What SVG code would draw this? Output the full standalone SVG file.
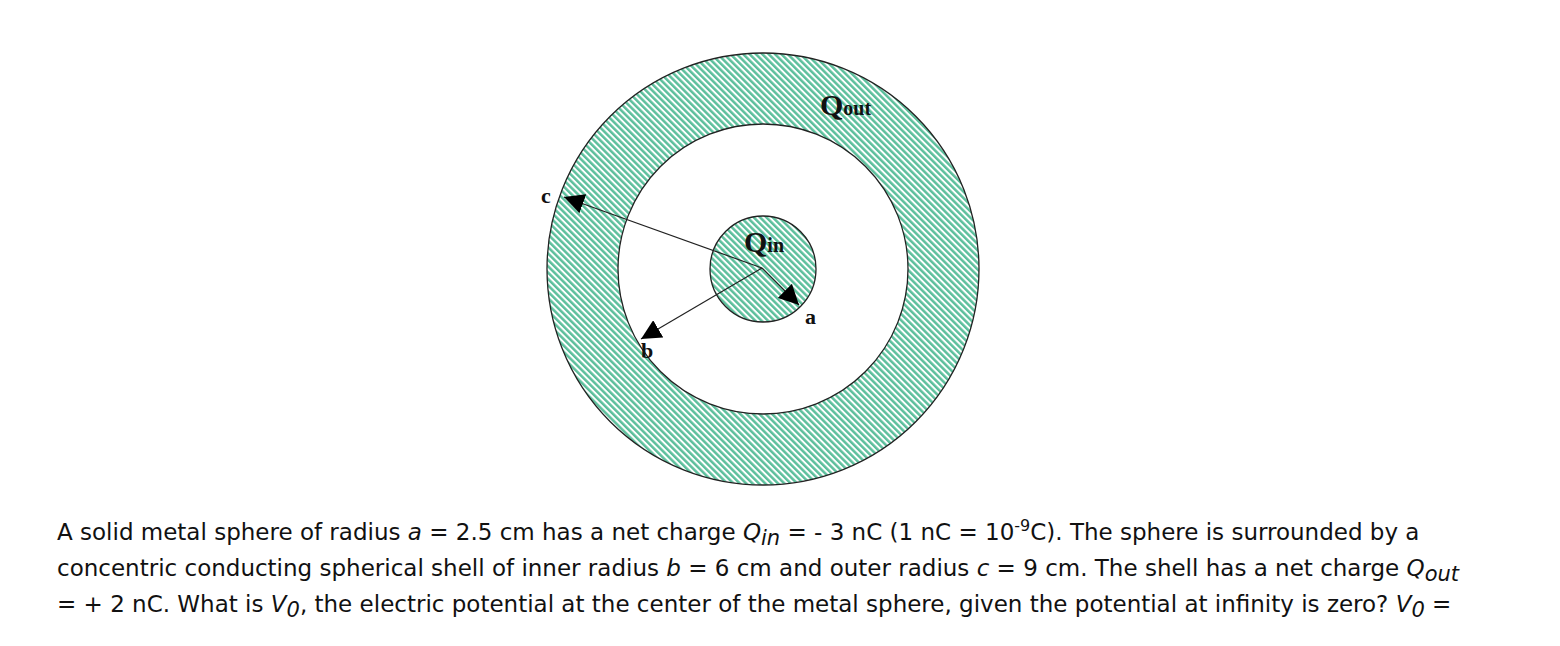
<svg xmlns="http://www.w3.org/2000/svg" width="1560" height="646" viewBox="0 0 1560 646">
<style>
.ring{stroke:#222;stroke-width:1.3}
.lbl{font-family:"Liberation Serif",serif;font-weight:bold;fill:#111}
.t{font-family:"DejaVu Sans",sans-serif;font-size:23px;fill:#111}
.ln{stroke:#222;stroke-width:1.2;fill:none}
</style>
<defs>
<pattern id="h" patternUnits="userSpaceOnUse" width="4.5" height="4.5" patternTransform="rotate(-45)">
<rect width="4.5" height="4.5" fill="#fff"/>
<rect width="2.5" height="4.5" fill="#5cbf9c"/>
</pattern>
<marker id="ar" viewBox="0 0 10 10" refX="10" refY="5" markerWidth="20" markerHeight="20" markerUnits="userSpaceOnUse" orient="auto">
<path d="M0,0 L10,5 L0,10 z" fill="#000"/>
</marker>
</defs>
<rect width="1560" height="646" fill="#fff"/>
<g id="shell">
<circle cx="763" cy="269" r="216" fill="url(#h)" class="ring"/>
<circle cx="763" cy="269" r="145" fill="#fff" class="ring"/>
</g>
<g id="sphere">
<circle cx="763" cy="269" r="53" fill="url(#h)" class="ring"/>
</g>
<g id="connectors">
<line class="ln" x1="762" y1="268" x2="564" y2="197" marker-end="url(#ar)"/>
<line class="ln" x1="762" y1="268" x2="799" y2="305" marker-end="url(#ar)"/>
<line class="ln" x1="762" y1="268" x2="641" y2="339" marker-end="url(#ar)"/>
</g>
<g id="labels">
<text class="lbl" x="541" y="203" font-size="22">c</text>
<text class="lbl" x="805" y="324" font-size="22">a</text>
<text class="lbl" x="641" y="358" font-size="22">b</text>
<text class="lbl" x="744" y="252" font-size="30">Q<tspan font-size="20">in</tspan></text>
<text class="lbl" x="820" y="115" font-size="30">Q<tspan font-size="20">out</tspan></text>
</g>
<g id="text">
<text class="t" x="57" y="540">A solid metal sphere of radius <tspan font-style="italic">a</tspan> = 2.5 cm has a net charge <tspan font-style="italic">Q<tspan font-size="21" dy="5">in</tspan></tspan><tspan dy="-5"> = - 3 nC (1 nC = 10</tspan><tspan font-size="16" dy="-9">-9</tspan><tspan dy="9">C). The sphere is surrounded by a</tspan></text>
<text class="t" x="57" y="576">concentric conducting spherical shell of inner radius <tspan font-style="italic">b</tspan> = 6 cm and outer radius <tspan font-style="italic">c</tspan> = 9 cm. The shell has a net charge <tspan font-style="italic">Q<tspan font-size="21" dy="5">out</tspan></tspan></text>
<text class="t" x="57" y="612">= + 2 nC. What is <tspan font-style="italic">V<tspan font-size="21" dy="5">0</tspan></tspan><tspan dy="-5">, the electric potential at the center of the metal sphere, given the potential at infinity is zero? </tspan><tspan font-style="italic">V<tspan font-size="21" dy="5">0</tspan></tspan><tspan dy="-5"> =</tspan></text>
</g>
</svg>
